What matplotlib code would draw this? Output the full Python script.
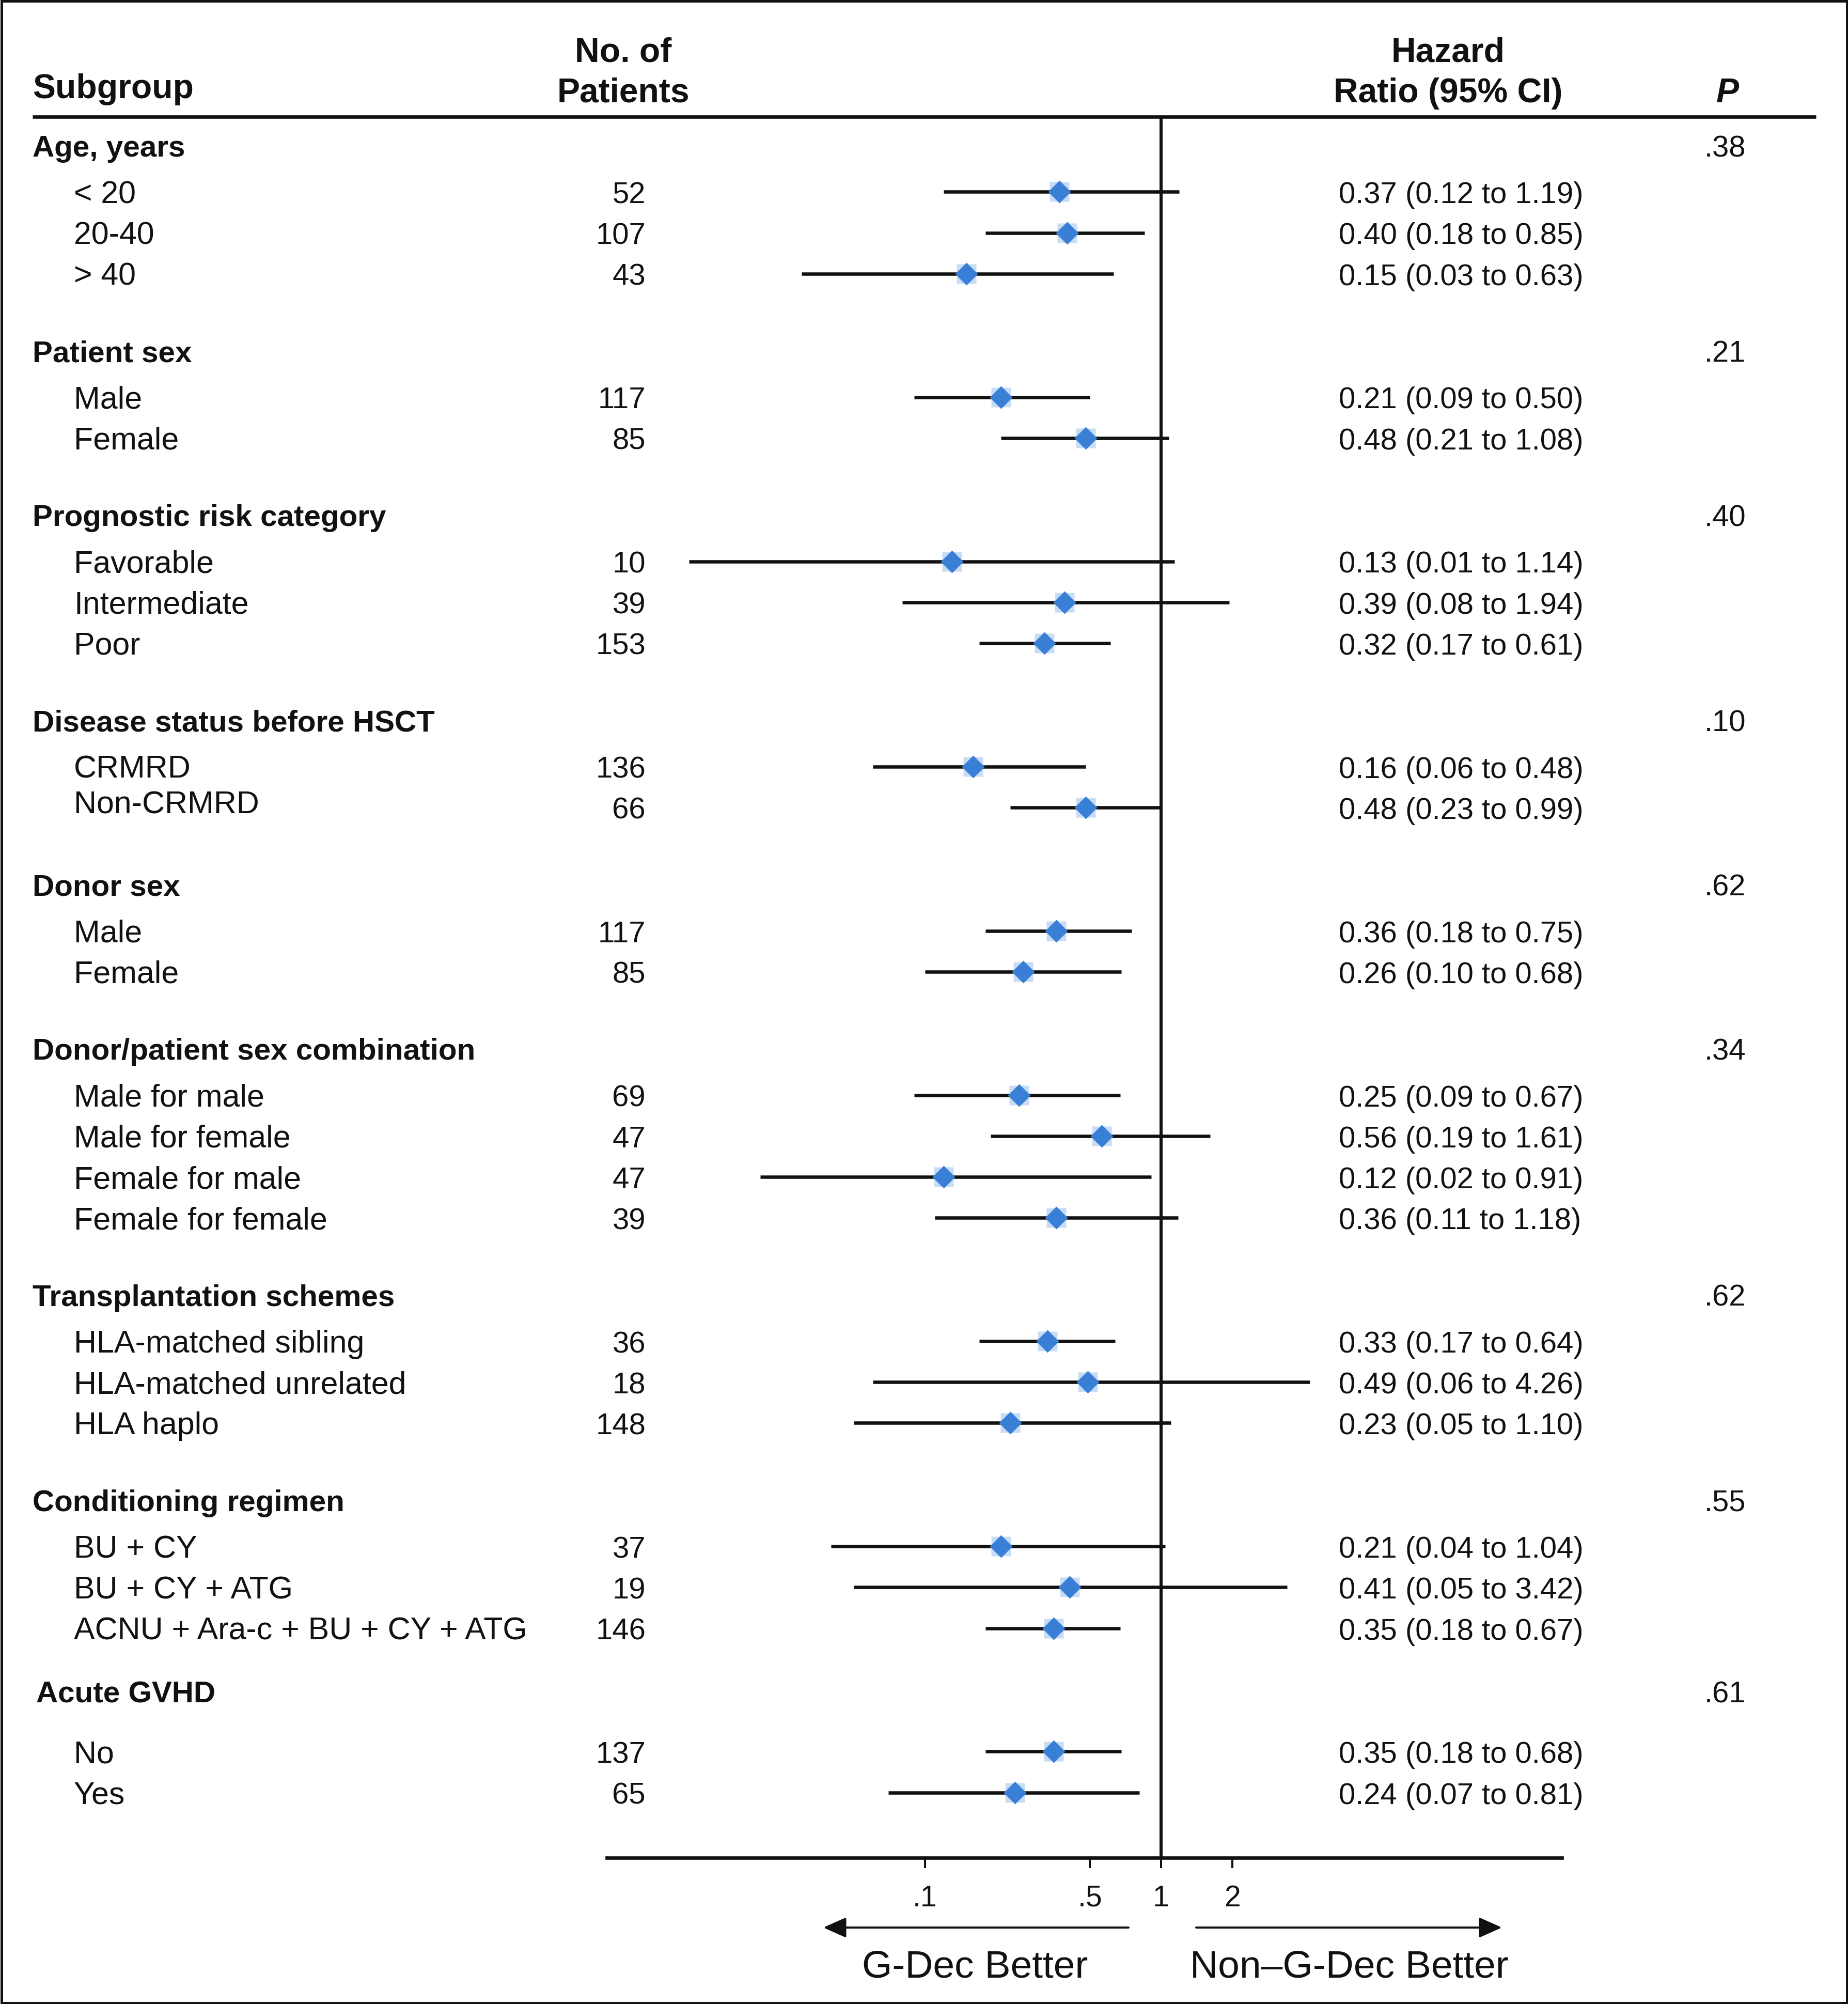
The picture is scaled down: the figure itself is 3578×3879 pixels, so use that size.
import matplotlib
matplotlib.use('Agg')
import matplotlib.pyplot as plt
from matplotlib import font_manager
from matplotlib.patches import Rectangle

# DATA
groups = ["Age, years", "Patient sex", "Prognostic risk category",
          "Disease status before HSCT", "Donor sex",
          "Donor/patient sex combination", "Transplantation schemes",
          "Conditioning regimen", "Acute GVHD"]
group_p = [".38", ".21", ".40", ".10", ".62", ".34", ".62", ".55", ".61"]
group_sizes = [3, 2, 3, 2, 2, 4, 3, 3, 2]

subgroups = ["< 20", "20-40", "> 40",
             "Male", "Female",
             "Favorable", "Intermediate", "Poor",
             "CRMRD", "Non-CRMRD",
             "Male", "Female",
             "Male for male", "Male for female", "Female for male", "Female for female",
             "HLA-matched sibling", "HLA-matched unrelated", "HLA haplo",
             "BU + CY", "BU + CY + ATG", "ACNU + Ara-c + BU + CY + ATG",
             "No", "Yes"]
n_patients = [52, 107, 43, 117, 85, 10, 39, 153, 136, 66, 117, 85,
              69, 47, 47, 39, 36, 18, 148, 37, 19, 146, 137, 65]
hr = [0.37, 0.40, 0.15, 0.21, 0.48, 0.13, 0.39, 0.32, 0.16, 0.48, 0.36, 0.26,
      0.25, 0.56, 0.12, 0.36, 0.33, 0.49, 0.23, 0.21, 0.41, 0.35, 0.35, 0.24]
ci_low = [0.12, 0.18, 0.03, 0.09, 0.21, 0.01, 0.08, 0.17, 0.06, 0.23, 0.18, 0.10,
          0.09, 0.19, 0.02, 0.11, 0.17, 0.06, 0.05, 0.04, 0.05, 0.18, 0.18, 0.07]
ci_high = [1.19, 0.85, 0.63, 0.50, 1.08, 1.14, 1.94, 0.61, 0.48, 0.99, 0.75, 0.68,
           0.67, 1.61, 0.91, 1.18, 0.64, 4.26, 1.10, 1.04, 3.42, 0.67, 0.68, 0.81]

x_ticks = [0.1, 0.5, 1, 2]
x_tick_labels = [".1", ".5", "1", "2"]

# FONTS
names = {f.name for f in font_manager.fontManager.ttflist}
regular = 'Liberation Sans' if 'Liberation Sans' in names else 'DejaVu Sans'
has_narrow = 'Liberation Sans Narrow' in names
narrow = 'Liberation Sans Narrow' if has_narrow else regular
plt.rcParams['font.family'] = [regular, 'DejaVu Sans']

INK = '#111111'
W, H = 3578, 3880

# LAYOUT (pixel rows, top = 0)
first_head = 282
head_to_item = 90.3
item_step = 79.2
item_to_head = 148.5
head_raise = {"Acute GVHD": 27}
head_dx = {"Acute GVHD": 7}
label_raise = {"Non-CRMRD": 10}

head_y = []
item_y = []
y = first_head
for gi, size in enumerate(group_sizes):
    if gi > 0:
        y += item_to_head
    head_y.append(y - head_raise.get(groups[gi], 0))
    y += head_to_item
    for k in range(size):
        if k > 0:
            y += item_step
        item_y.append(y)

fig = plt.figure(figsize=(W / 100, H / 100), dpi=100)
fig.patch.set_facecolor('white')

# text layer in pixel coords
tx = fig.add_axes([0, 0, 1, 1])
tx.set_xlim(0, W)
tx.set_ylim(H, 0)
tx.axis('off')

# forest axes: log scale, spanning header line to axis line
axis_top, axis_bottom = 227, 3597
ax_left, ax_right = 1175, 3024
x_one, decade = 2248, 457
fx = fig.add_axes([ax_left / W, 1 - axis_bottom / H,
                   (ax_right - ax_left) / W, (axis_bottom - axis_top) / H])
fx.set_xscale('log')
fx.set_xlim(10 ** ((ax_left - x_one) / decade), 10 ** ((ax_right - x_one) / decade))
fx.set_ylim(axis_bottom, axis_top)
fx.patch.set_alpha(0)
for s in ['top', 'left', 'right']:
    fx.spines[s].set_visible(False)
fx.spines['bottom'].set_linewidth(4.8)
fx.spines['bottom'].set_color(INK)
fx.set_yticks([])
fx.set_xticks(x_ticks)
fx.set_xticklabels(x_tick_labels, fontfamily=narrow, fontsize=41, color=INK)
fx.xaxis.set_minor_locator(matplotlib.ticker.NullLocator())
fx.tick_params(axis='x', direction='out', length=14.4, width=2.9, color=INK, pad=22)

fx.axvline(1, color=INK, lw=4.3, zorder=2)

for i in range(len(hr)):
    yy = item_y[i]
    fx.plot([ci_low[i], ci_high[i]], [yy, yy], color=INK, lw=4.7,
            solid_capstyle='butt', zorder=3)
    fx.plot(hr[i], yy, marker='s', ms=27, color='#c7dcf5', mec='none', zorder=4)
    fx.plot(hr[i], yy, marker='D', ms=22.5, color='#3a7fd6', mec='none', zorder=5)

# header
hfs = 47.5
tx.text(63, 190, "Subgroup", fontsize=hfs, fontweight='bold', color=INK, va='baseline')
tx.text(1207, 120, "No. of", fontsize=hfs, fontweight='bold', color=INK, va='baseline', ha='center')
tx.text(1207, 198, "Patients", fontsize=hfs, fontweight='bold', color=INK, va='baseline', ha='center')
tx.text(2804, 120, "Hazard", fontsize=hfs, fontweight='bold', color=INK, va='baseline', ha='center')
tx.text(2804, 198, "Ratio (95% CI)", fontsize=hfs, fontweight='bold', color=INK, va='baseline', ha='center')
tx.text(3345, 198, "P", fontsize=hfs, fontweight='bold', fontstyle='italic', color=INK,
        va='baseline', ha='center')
tx.plot([63, 3516], [227, 227], color=INK, lw=4.8, solid_capstyle='butt')

bfs = 41.8
base = 21
for gi, g in enumerate(groups):
    yy = head_y[gi]
    tx.text(63 + head_dx.get(g, 0), yy + base, g, fontsize=42, fontweight='bold',
            color=INK, va='baseline')
    tx.text(3380, yy + base, group_p[gi], fontsize=bfs, color=INK, va='baseline', ha='right')

for i, name in enumerate(subgroups):
    yy = item_y[i]
    tx.text(143, yy + base - label_raise.get(name, 0), name, fontsize=43.8, color=INK,
            va='baseline')
    tx.text(1250, yy + base, str(n_patients[i]), fontsize=bfs, color=INK,
            va='baseline', ha='right')
    tx.text(2592, yy + base, f"{hr[i]:.2f} ({ci_low[i]:.2f} to {ci_high[i]:.2f})",
            fontsize=bfs, color=INK, va='baseline')

# direction arrows and labels
arrow_y = 3732
arrow_style = dict(arrowstyle='-|>,head_length=0.45,head_width=0.2',
                   mutation_scale=60, lw=2.9, color=INK, shrinkA=0, shrinkB=0)
tx.annotate("", xy=(1594, arrow_y), xytext=(2185, arrow_y), arrowprops=arrow_style)
tx.annotate("", xy=(2908, arrow_y), xytext=(2316, arrow_y), arrowprops=arrow_style)
lab_fs = 60 if has_narrow else 54
tx.text(1888, 3828, "G-Dec Better", fontfamily=narrow, fontsize=lab_fs, color=INK,
        ha='center', va='baseline')
tx.text(2612, 3828, "Non\u2013G-Dec Better", fontfamily=narrow, fontsize=lab_fs, color=INK,
        ha='center', va='baseline')

# outer frame
tx.add_patch(Rectangle((2.5, 2.5), W - 5, H - 5, fill=False, ec=INK, lw=3.6))

fig.savefig('out.png', dpi=100, facecolor='white')
